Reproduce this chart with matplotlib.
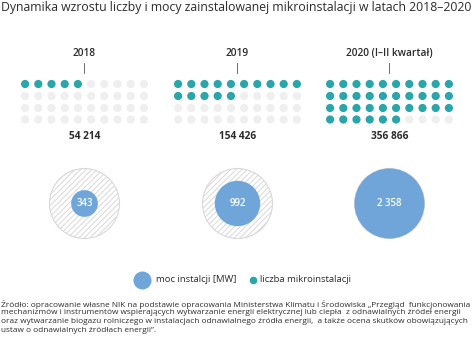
import matplotlib
matplotlib.use("Agg")
import matplotlib.pyplot as plt
from matplotlib.patches import Circle

years = ["2018", "2019", "2020 (I\u2013II kwarta\u0142)"]
installations = [54214, 154426, 356866]
installation_labels = ["54 214", "154 426", "356 866"]
power_mw = [343, 992, 2358]
power_labels = ["343", "992", "2 358"]
units_per_dot = 10000

title = "Dynamika wzrostu liczby i mocy zainstalowanej mikroinstalacji w latach 2018\u20132020"
legend_labels = ["moc instalcji [MW]", "liczba mikroinstalacji"]
source_lines = [
    "\u0179r\u00f3d\u0142o: opracowanie w\u0142asne NIK na podstawie opracowania Ministerstwa Klimatu i \u015arodowiska \u201ePrzegl\u0105d  funkcjonowania",
    "mechanizm\u00f3w i instrument\u00f3w wspieraj\u0105cych wytwarzanie energii elektrycznej lub ciep\u0142a  z odnawialnych \u017ar\u00f3de\u0142 energii",
    "oraz wytwarzanie biogazu rolniczego w instalacjach odnawialnego \u017ar\u00f3d\u0142a energii,  a tak\u017ce ocena skutk\u00f3w obowi\u0105zuj\u0105cych",
    "ustaw o odnawialnych \u017ar\u00f3d\u0142ach energii\u201d.",
]

TEAL = "#2aa5aa"
BLUE = "#6fa5d8"
EMPTY = "#efefef"
TXT = "#2b2b2b"
FONT = ["Open Sans", "DejaVu Sans"]

plt.rcParams["hatch.color"] = "#d8d8d8"
plt.rcParams["hatch.linewidth"] = 0.7

W, H = 474, 354
fig = plt.figure(figsize=(W / 100, H / 100), dpi=100)
ax = fig.add_axes([0, 0, 1, 1])
ax.set_xlim(0, W)
ax.set_ylim(H, 0)
ax.set_aspect("equal")
ax.axis("off")

renderer = fig.canvas.get_renderer()

def fit_text(x, y, s, width, size, **kw):
    t = ax.text(x, y, s, fontsize=size, family=FONT, **kw)
    w = t.get_window_extent(renderer).width
    t.set_fontsize(size * width / w)
    return t

fit_text(1, 7.5, title, 471, 9, color=TXT, va="center", ha="left")

centers = [84.5, 237.5, 389.5]
col_dx = 13.2
row_y = [84, 96, 108, 119.5]
dot_r = 4.1
max_power = max(power_mw)
outer_r = 35
bubble_y = 203.5

for i, cx in enumerate(centers):
    ax.text(cx, 54, years[i], ha="center", va="center", fontsize=7.3, family=FONT,
            fontweight="semibold", color=TXT)
    ax.plot([cx, cx], [63, 73], color="#555555", lw=0.6)
    filled = round(installations[i] / units_per_dot)
    k = 0
    for r in range(4):
        for c in range(10):
            x = cx + (c - 4.5) * col_dx
            col = TEAL if k < filled else EMPTY
            ax.add_patch(Circle((x, row_y[r]), dot_r, color=col, lw=0))
            k += 1
    ax.text(cx, 136.5, installation_labels[i], ha="center", va="center", fontsize=7.3,
            family=FONT, fontweight="bold", color=TXT)
    ax.add_patch(Circle((cx, bubble_y), outer_r, facecolor="white", edgecolor="#d8d8d8",
                        hatch="//////", lw=0.8))
    r_in = outer_r * (power_mw[i] / max_power) ** 0.5
    ax.add_patch(Circle((cx, bubble_y), r_in, facecolor=BLUE, edgecolor="none", zorder=3))
    ax.text(cx, bubble_y, power_labels[i], ha="center", va="center", fontsize=7,
            family=FONT, fontweight="semibold", color="white", zorder=4)

# legend
ax.add_patch(Circle((142.5, 280.5), 9, color=BLUE, lw=0))
ax.text(156.5, 280, legend_labels[0], ha="left", va="center", fontsize=6.8, family=FONT, color=TXT)
ax.add_patch(Circle((253.5, 280.5), 3.8, color=TEAL, lw=0))
ax.text(260, 280, legend_labels[1], ha="left", va="center", fontsize=6.8, family=FONT, color=TXT)

# source
ys = [304.5, 313, 321.5, 330]
t0 = fit_text(1, ys[0], source_lines[0], 472, 6, color=TXT, va="center", ha="left")
fs = t0.get_fontsize()
for s, y in zip(source_lines[1:], ys[1:]):
    ax.text(1, y, s, fontsize=fs, family=FONT, color=TXT, va="center", ha="left")

fig.savefig("out.png", dpi=100)
